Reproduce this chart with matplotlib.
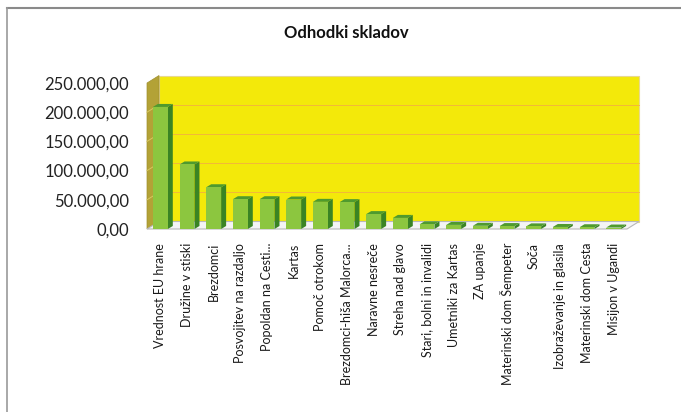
import matplotlib
matplotlib.use("Agg")
import matplotlib.pyplot as plt
from matplotlib.patches import Polygon
from matplotlib.lines import Line2D
import numpy as np

plt.rcParams['font.family'] = ['Lato', 'DejaVu Sans']

# Podatki
kategorije = [
    "Vrednost EU hrane", "Družine v stiski", "Brezdomci", "Posvojitev na razdaljo",
    "Popoldan na Cesti...", "Kartas", "Pomoč otrokom", "Brezdomci-hiša Malorca...",
    "Naravne nesreče", "Streha nad glavo", "Stari, bolni in invalidi",
    "Umetniki za Kartas", "ZA upanje", "Materinski dom Šempeter", "Soča",
    "Izobraževanje in glasila", "Materinski dom Cesta", "Misijon v Ugandi",
]
vrednosti = [209000, 110500, 71500, 51000, 51000, 50500, 46500, 46000,
             25500, 19000, 8000, 7000, 5500, 5000, 4500, 3500, 3000, 2500]
y_ticks = [0, 50000, 100000, 150000, 200000, 250000]

W, H = 681, 412
fig = plt.figure(figsize=(W / 100, H / 100), dpi=100)
fig.patch.set_facecolor("white")

# sprednja ravnina grafa
ax = fig.add_axes([147 / W, 183 / H, 480 / W, 146 / H])
n = len(kategorije)
ax.set_xlim(-0.5, n - 0.5)
ax.set_ylim(0, 250000)
ax.patch.set_visible(False)
for s in ax.spines.values():
    s.set_visible(False)

# pretvorba pikslov v enote podatkov
px_x = (n) / 480.0
px_y = 250000 / 146.0
ox, oy = 12 * px_x, 7.5 * px_y  # globina stene
x0, x1 = -0.5, n - 0.5
ymax = 250000

# zadnja stena
ax.add_patch(Polygon([(x0 + ox, oy), (x1 + ox, oy), (x1 + ox, ymax + oy), (x0 + ox, ymax + oy)],
                     closed=True, facecolor="#f3e90a", edgecolor="#e8d890", lw=0.8,
                     clip_on=False, zorder=1))
# stranska stena
ax.add_patch(Polygon([(x0, 0), (x0 + ox, oy), (x0 + ox, ymax + oy), (x0, ymax)],
                     closed=True, facecolor="#b3a236", edgecolor="#a09030", lw=0.5,
                     clip_on=False, zorder=1))
# tla
ax.add_patch(Polygon([(x0, 0), (x1, 0), (x1 + ox, oy), (x0 + ox, oy)],
                     closed=True, facecolor="#f4f4f4", edgecolor="#b8b8b8", lw=0.8,
                     clip_on=False, zorder=1))

# mrežne črte
for v in y_ticks[1:-1]:
    ax.plot([x0 + ox, x1 + ox], [v + oy, v + oy], color="#f2b040", lw=0.6, zorder=2, clip_on=False)
    ax.plot([x0, x0 + ox], [v, v + oy], color="#d8c860", lw=0.7, zorder=2, clip_on=False)

# stolpci
x = np.arange(n)
bw = 0.56
dx, dy = 5 * px_x, 3 * px_y
for xi, v in zip(x, vrednosti):
    r = xi + bw / 2
    l = xi - bw / 2
    ax.add_patch(Polygon([(r, 0), (r + dx, dy), (r + dx, v + dy), (r, v)], closed=True,
                         facecolor="#3a8424", edgecolor="none", zorder=3, clip_on=False))
    ax.add_patch(Polygon([(l, v), (r, v), (r + dx, v + dy), (l + dx, v + dy)], closed=True,
                         facecolor="#4f9a2e", edgecolor="none", zorder=3, clip_on=False))
ax.bar(x, vrednosti, width=bw, color="#8cc63f", edgecolor="none", zorder=4)

ax.set_yticks(y_ticks)
ax.set_yticklabels([f"{v:,.2f}".replace(",", " ").replace(".", ",").replace(" ", ".")
                    for v in y_ticks], fontsize=12, color="#222222")
ax.tick_params(axis="y", length=0, pad=13)
ax.set_xticks(x)
ax.set_xticklabels(kategorije, rotation=90, fontsize=9, color="#1a1a1a", va="top", ha="center")
ax.tick_params(axis="x", length=0, pad=10)

fig.text(346 / W, 1 - 33 / H, "Odhodki skladov", ha="center", va="center",
         fontsize=12, fontweight="bold", color="#111111")

# okvir
fig.add_artist(Line2D([7 / W, 1], [1 - 8 / H, 1 - 8 / H], color="#8a8a8a", lw=1.5))
fig.add_artist(Line2D([7 / W, 7 / W], [0, 1 - 8 / H], color="#9a9a9a", lw=1.2))

fig.savefig("out.png", dpi=100)
